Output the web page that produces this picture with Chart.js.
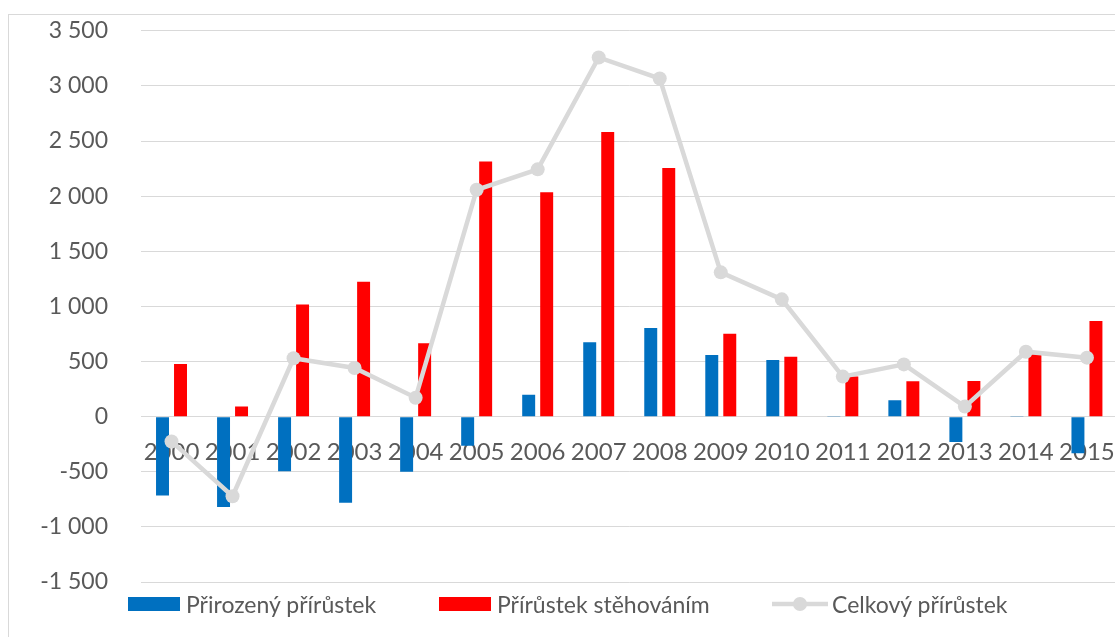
<!DOCTYPE html>
<html>
<head>
<meta charset="utf-8">
<script src="https://cdn.jsdelivr.net/npm/chart.js@4"></script>
<style>
  html, body { margin: 0; padding: 0; background: #fff; overflow: hidden; }
  #wrap { position: relative; width: 1115px; height: 637px; overflow: hidden; }
  #frame { position: absolute; left: 8px; top: 14px; width: 1200px; height: 700px; border: 1px solid #d9d9d9; box-sizing: border-box; }
  #c { position: absolute; left: 0; top: -16px; }
  .lg { position: absolute; top: 591px; height: 26px; display: flex; align-items: center; font-family: Lato, "Open Sans", sans-serif; font-size: 23px; color: #595959; white-space: nowrap; }
  .sw { display: inline-block; width: 52px; height: 14px; margin-right: 6px; }
</style>
</head>
<body>
<div id="wrap">
  <div id="frame"></div>
  <canvas id="c" width="1136" height="653" style="width:1136px;height:653px"></canvas>
  <div class="lg" style="left:128px"><span class="sw" style="background:#0070C0"></span>Přirozený přírůstek</div>
  <div class="lg" style="left:439px"><span class="sw" style="background:#FF0000"></span>Přírůstek stěhováním</div>
  <div class="lg" style="left:772px"><svg width="56" height="16" style="margin-right:4px"><line x1="0" y1="8" x2="56" y2="8" stroke="#D9D9D9" stroke-width="4.5"/><circle cx="28" cy="8" r="7" fill="#D9D9D9"/></svg>Celkový přírůstek</div>
</div>
<script>
const years = ['2000','2001','2002','2003','2004','2005','2006','2007','2008','2009','2010','2011','2012','2013','2014','2015'];
const natural = [-716, -819, -495, -782, -501, -263, 199, 674, 804, 559, 514, 5, 148, -230, 5, -332];
const migration = [477, 91, 1018, 1224, 665, 2315, 2036, 2582, 2255, 752, 544, 363, 320, 323, 565, 868];
const total = [-225, -722, 529, 441, 172, 2058, 2243, 3258, 3067, 1309, 1064, 363, 474, 91, 589, 535];
const seriesNames = ['Přirozený přírůstek', 'Přírůstek stěhováním', 'Celkový přírůstek'];
const yMin = -1500, yMax = 3500, yStep = 500;

const fmt = v => {
  const s = Math.abs(v).toString().replace(/\B(?=(\d{3})+(?!\d))/g, ' ');
  return (v < 0 ? '-' : '') + s;
};

new Chart(document.getElementById('c'), {
  data: {
    labels: years,
    datasets: [
      { type: 'line', label: seriesNames[2], data: total, borderColor: '#D9D9D9', backgroundColor: '#D9D9D9',
        borderWidth: 4.5, pointRadius: 7, pointBorderWidth: 0, pointBackgroundColor: '#D9D9D9', tension: 0, order: 0 },
      { type: 'bar', label: seriesNames[0], data: natural, backgroundColor: '#0070C0',
        categoryPercentage: 0.59, barPercentage: 0.72, order: 1 },
      { type: 'bar', label: seriesNames[1], data: migration, backgroundColor: '#FF0000',
        categoryPercentage: 0.59, barPercentage: 0.72, order: 2 }
    ]
  },
  options: {
    responsive: false,
    animation: false,
    layout: { padding: { left: 0, right: 7, top: 14, bottom: 55 } },
    plugins: { legend: { display: false }, tooltip: { enabled: false } },
    scales: {
      x: {
        type: 'category',
        position: { y: 0 },
        offset: true,
        z: 1,
        grid: { display: false, drawTicks: false },
        border: { display: true, color: '#D9D9D9', width: 1 },
        ticks: { color: '#595959', font: { family: 'Lato', size: 24 }, padding: 21, maxRotation: 0, autoSkip: false }
      },
      y: {
        min: yMin, max: yMax,
        grid: { color: '#D9D9D9', lineWidth: 1, drawTicks: false },
        border: { display: false },
        ticks: { stepSize: yStep, color: '#595959', font: { family: 'Lato', size: 23 }, padding: 33, callback: v => fmt(v) },
        afterFit: s => { s.width = 141; }
      }
    }
  }
});
</script>
</body>
</html>
